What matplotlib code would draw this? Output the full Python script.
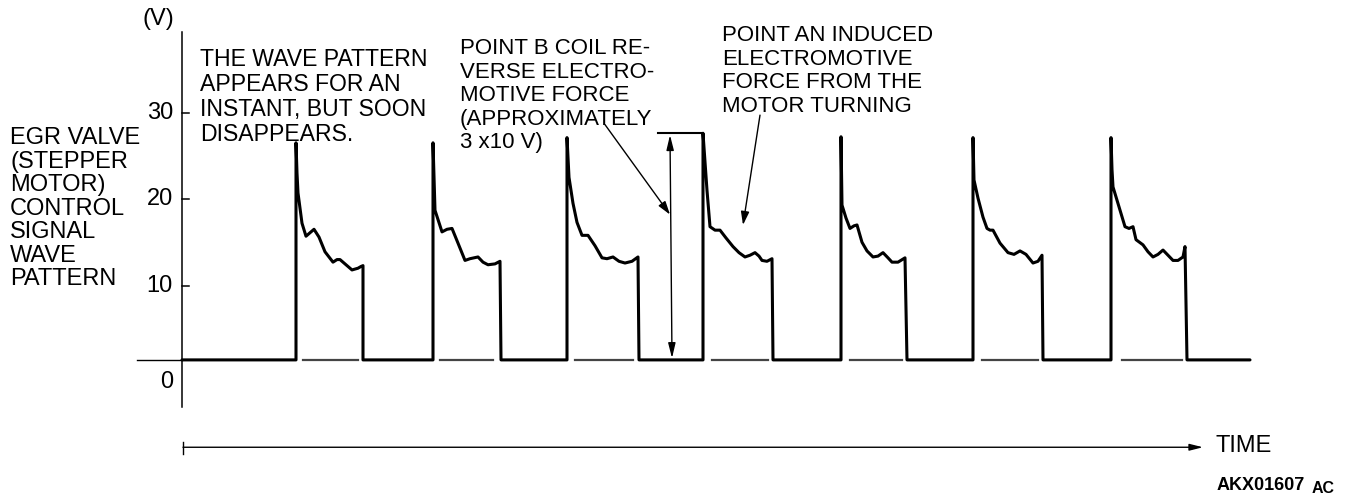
import matplotlib
matplotlib.use("Agg")
import matplotlib.pyplot as plt

plt.rcParams['font.family'] = ['Liberation Sans', 'DejaVu Sans']

# baseline level of the signal (V)
BASE = 1.4

# each pulse: time (ms) and voltage (V), from rising edge to falling edge
p1_t = [11.4, 11.4, 11.5, 11.6, 12.0, 12.4, 12.8, 13.2, 13.7, 14.3, 15.1, 15.5, 15.8, 16.4, 17.0, 17.6, 17.9, 18.1, 18.1]
p1_v = [BASE, 26.5, 23.0, 20.7, 17.2, 15.7, 16.1, 16.5, 15.6, 13.9, 12.7, 13.0, 13.0, 12.4, 11.8, 12.0, 12.2, 12.3, BASE]

p2_t = [25.1, 25.1, 25.3, 26.0, 26.5, 27.0, 27.6, 28.3, 28.8, 29.6, 30.1, 30.6, 31.3, 31.8, 31.9]
p2_v = [BASE, 26.5, 18.7, 16.2, 16.5, 16.6, 14.9, 12.9, 13.1, 13.3, 12.7, 12.4, 12.5, 12.8, BASE]

p3_t = [38.5, 38.5, 38.7, 39.1, 39.5, 40.0, 40.6, 41.3, 42.0, 42.5, 43.1, 43.7, 44.3, 45.0, 45.6, 45.7]
p3_v = [BASE, 27.1, 22.5, 19.5, 17.3, 15.8, 15.8, 14.6, 13.2, 13.1, 13.3, 12.8, 12.6, 12.8, 13.3, BASE]

p4_t = [52.1, 52.1, 52.3, 52.5, 52.8, 53.3, 53.8, 54.4, 55.1, 55.7, 56.3, 56.8, 57.3, 57.7, 58.0, 58.5, 59.0, 59.1]
p4_v = [BASE, 27.6, 24.3, 21.0, 16.8, 16.4, 16.4, 15.5, 14.5, 13.8, 13.3, 13.5, 13.8, 13.4, 12.9, 12.8, 13.1, BASE]

p5_t = [65.9, 65.9, 66.0, 66.4, 66.8, 67.2, 67.5, 67.8, 68.0, 68.5, 69.1, 69.6, 70.1, 70.6, 71.0, 71.6, 72.3, 72.5]
p5_v = [BASE, 27.2, 19.3, 17.8, 16.6, 16.9, 17.0, 15.8, 15.0, 14.0, 13.3, 13.4, 13.8, 13.2, 12.7, 12.7, 13.2, BASE]

p6_t = [79.1, 79.1, 79.2, 79.6, 80.1, 80.5, 80.8, 81.1, 81.8, 82.6, 83.2, 83.8, 84.4, 85.1, 85.6, 86.0, 86.1]
p6_v = [BASE, 27.1, 22.2, 20.1, 17.9, 16.6, 16.4, 16.4, 14.9, 13.8, 13.6, 14.0, 13.6, 12.6, 12.8, 13.5, BASE]

p7_t = [92.9, 92.9, 93.0, 93.1, 93.7, 94.3, 94.7, 95.1, 95.4, 96.1, 96.6, 97.1, 97.6, 98.1, 98.6, 99.1, 99.6, 100.1, 100.3, 100.5]
p7_v = [BASE, 27.1, 23.4, 21.4, 19.1, 16.8, 16.6, 16.8, 15.3, 14.7, 13.9, 13.3, 13.6, 14.1, 13.5, 12.9, 12.9, 13.3, 14.5, BASE]

pulses_t = [p1_t, p2_t, p3_t, p4_t, p5_t, p6_t, p7_t]
pulses_v = [p1_v, p2_v, p3_v, p4_v, p5_v, p6_v, p7_v]

T_START = 0.0
T_END = 106.8

# thin zero-level strokes drawn under each pulse
under_t0 = [12.1, 25.8, 39.3, 53.0, 66.8, 80.0, 94.0]
under_t1 = [17.6, 31.1, 45.1, 58.6, 72.0, 85.6, 100.0]

y_ticks = [10, 20, 30]

left_label = "EGR VALVE\n(STEPPER\nMOTOR)\nCONTROL\nSIGNAL\nWAVE\nPATTERN"
note_wave = "THE WAVE PATTERN\nAPPEARS FOR AN\nINSTANT, BUT SOON\nDISAPPEARS."
note_b = "POINT B COIL RE-\nVERSE ELECTRO-\nMOTIVE FORCE\n(APPROXIMATELY\n3 x10 V)"
note_a = "POINT AN INDUCED\nELECTROMOTIVE\nFORCE FROM THE\nMOTOR TURNING"


def build_trace():
    t = [T_START]
    v = [BASE]
    for pt, pv in zip(pulses_t, pulses_v):
        t += pt
        v += pv
    t.append(T_END)
    v.append(BASE)
    return t, v


def draw():
    fig = plt.figure(figsize=(13.52, 4.95), dpi=100)
    ax = fig.add_axes([0, 0, 1, 1])
    ax.set_xlim(-18.2, 117.0)
    ax.set_ylim(-14.22, 43.01)
    ax.axis('off')

    fs = 17

    # voltage axis
    ax.plot([0, 0], [-4.1, 39.3], color='k', lw=1.1)
    ax.plot([-4.5, 0], [BASE, BASE], color='k', lw=1.0)
    for yt in y_ticks:
        ax.plot([0, 0.7], [yt, yt], color='k', lw=1.1)
        ax.text(-0.9, yt, str(yt), ha='right', va='center', fontsize=fs)
    ax.text(-0.9, -1.2, "0", ha='right', va='center', fontsize=fs)
    ax.text(-2.4, 40.8, "(V)", ha='center', va='center', fontsize=fs)

    # signal trace
    t, v = build_trace()
    ax.plot(t, v, color='k', lw=2.2, solid_joinstyle='round', solid_capstyle='round')
    for a, b in zip(under_t0, under_t1):
        ax.plot([a, b], [BASE, BASE], color='#444444', lw=1.6)

    # peak bracket and double arrow for point B
    ax.plot([47.6, 52.1], [27.6, 27.6], color='k', lw=1.5)
    ax.annotate('', xy=(49.0, BASE + 0.2), xytext=(48.8, 27.4),
                arrowprops=dict(arrowstyle='<|-|>,head_length=0.9,head_width=0.22',
                                color='k', lw=1.0, shrinkA=0, shrinkB=0))

    # leader arrows
    ax.annotate('', xy=(48.8, 18.2), xytext=(42.3, 28.6),
                arrowprops=dict(arrowstyle='-|>,head_length=0.8,head_width=0.25',
                                color='k', lw=1.0, shrinkA=0, shrinkB=0))
    ax.annotate('', xy=(56.1, 17.0), xytext=(57.8, 29.7),
                arrowprops=dict(arrowstyle='-|>,head_length=0.8,head_width=0.25',
                                color='k', lw=1.0, shrinkA=0, shrinkB=0))

    # notes
    ax.text(-17.2, 28.3, left_label, ha='left', va='top', fontsize=fs, linespacing=1.09)
    ax.text(1.8, 37.5, note_wave, ha='left', va='top', fontsize=16.6, linespacing=1.11)
    ax.text(27.8, 38.6, note_b, ha='left', va='top', fontsize=16, linespacing=1.16)
    ax.text(54.0, 40.1, note_a, ha='left', va='top', fontsize=16, linespacing=1.16)

    # time axis
    ax.annotate('', xy=(102.1, -8.7), xytext=(0.1, -8.7),
                arrowprops=dict(arrowstyle='-|>,head_length=0.8,head_width=0.2',
                                color='k', lw=1.0, shrinkA=0, shrinkB=0))
    ax.plot([0.1, 0.1], [-8.1, -9.5], color='k', lw=1.0)
    ax.text(103.3, -8.6, "TIME", ha='left', va='center', fontsize=fs)

    ax.text(103.5, -13.6, "AKX01607", ha='left', va='baseline', fontsize=13, fontweight='bold')
    ax.text(113.0, -14.0, "AC", ha='left', va='baseline', fontsize=11.5, fontweight='bold')

    fig.savefig('out.png', dpi=100)


if __name__ == '__main__':
    draw()
